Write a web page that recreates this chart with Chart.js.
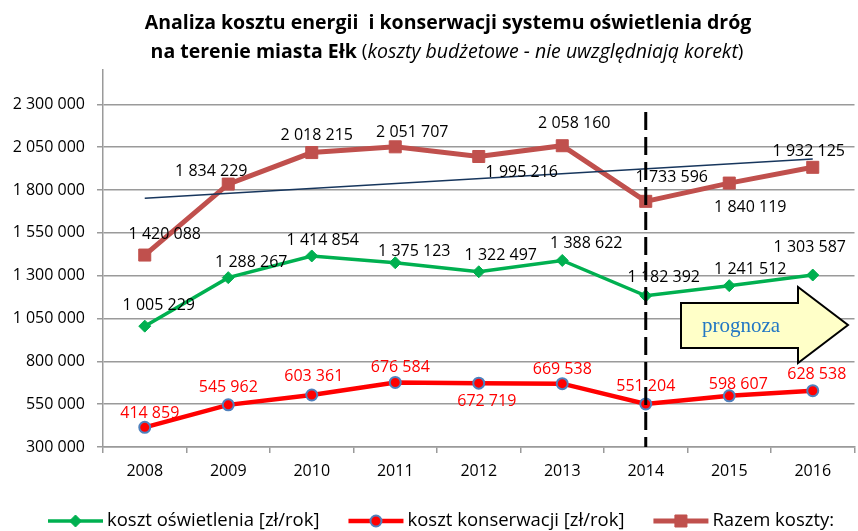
<!DOCTYPE html>
<html><head><meta charset="utf-8">
<script src="https://cdn.jsdelivr.net/npm/chart.js@4/dist/chart.umd.min.js"></script>
<style>
html,body{margin:0;padding:0;background:#fff;overflow:hidden;width:858px;height:531px}
#wrap{position:absolute;left:0;top:0;width:864px;height:531px}
</style></head><body>
<div id="wrap"><canvas id="c" width="864" height="531"></canvas></div>
<script>
// ---- data ----
const years = ['2008','2009','2010','2011','2012','2013','2014','2015','2016'];
const kosztOswietlenia = [1005229,1288267,1414854,1375123,1322497,1388622,1182392,1241512,1303587];
const kosztKonserwacji = [414859,545962,603361,676584,672719,669538,551204,598607,628538];
const razemKoszty = [1420088,1834229,2018215,2051707,1995216,2058160,1733596,1840119,1932125];
const trendRazem = [1752000,null,null,null,null,null,null,null,1980000];
const yTicks = [300000,550000,800000,1050000,1300000,1550000,1800000,2050000,2300000];
const forecastYear = '2014';

// ---- styling / label placement (not data) ----
const FONT = "'Open Sans', 'Noto Sans', sans-serif";
const labelOffsets = {
  g: [[14,-21],[23,-15],[11,-16],[19,-11],[22,-16],[24,-17],[18,-18],[21,-16],[-3,-28]],
  r: [[5,-14],[0,-17],[2,-19],[5,-15],[8,18],[0,-14],[0,-18],[9,-11],[4,-16]],
  b: [[20,-21],[-17,-13],[5,-17],[17,-14],[43,16],[12,-22],[26,-24],[21,24],[-4,-16]]
};
const fmt = v => String(v).replace(/\B(?=(\d{3})+(?!\d))/g, ' ');

const decor = {
  id: 'decor',
  afterDatasetsDraw(chart) {
    const ctx = chart.ctx;
    // data labels
    ctx.save();
    ctx.font = "16px " + FONT;
    ctx.textAlign = 'center';
    ctx.textBaseline = 'middle';
    chart.data.datasets.forEach((ds, i) => {
      if (!ds.lblKey) return;
      const meta = chart.getDatasetMeta(i);
      ctx.fillStyle = ds.lblColor;
      meta.data.forEach((pt, j) => {
        const o = labelOffsets[ds.lblKey][j];
        ctx.fillText(fmt(ds.data[j]), pt.x + o[0], pt.y + o[1]);
      });
    });
    ctx.restore();
    // dashed forecast line
    const x = chart.scales.x.getPixelForValue(years.indexOf(forecastYear));
    ctx.save();
    ctx.strokeStyle = '#000';
    ctx.lineWidth = 3;
    ctx.setLineDash([18, 7]);
    ctx.beginPath();
    ctx.moveTo(x, 112);
    ctx.lineTo(x, chart.chartArea.bottom);
    ctx.stroke();
    ctx.restore();
    // arrow "prognoza"
    ctx.save();
    ctx.beginPath();
    ctx.moveTo(681, 303); ctx.lineTo(798, 303); ctx.lineTo(798, 287);
    ctx.lineTo(848, 325); ctx.lineTo(798, 363); ctx.lineTo(798, 348);
    ctx.lineTo(681, 348); ctx.closePath();
    ctx.fillStyle = '#FFFFC8';
    ctx.fill();
    ctx.lineWidth = 2;
    ctx.strokeStyle = '#000';
    ctx.lineJoin = 'miter';
    ctx.stroke();
    ctx.fillStyle = '#2277C4';
    ctx.font = "21px 'Liberation Serif', serif";
    ctx.textAlign = 'center';
    ctx.textBaseline = 'middle';
    ctx.fillText('prognoza', 741, 326);
    ctx.restore();
  },
  afterDraw(chart) {
    const ctx = chart.ctx;
    ctx.save();
    // title
    ctx.fillStyle = '#000';
    ctx.textBaseline = 'middle';
    ctx.textAlign = 'left';
    const t1 = 'Analiza kosztu energii  i konserwacji systemu oświetlenia dróg';
    ctx.font = "bold 19.5px " + FONT;
    let w = ctx.measureText(t1).width;
    ctx.fillText(t1, 448 - w / 2, 23);
    const segs = [
      ['na terenie miasta Ełk ', "bold 19.5px " + FONT],
      ['(', "19px " + FONT],
      ['koszty budżetowe - nie uwzględniają korekt', "italic 19.5px " + FONT],
      [')', "19px " + FONT]
    ];
    let tot = 0;
    segs.forEach(s => { ctx.font = s[1]; tot += ctx.measureText(s[0]).width; });
    let xx = 447 - tot / 2;
    segs.forEach(s => { ctx.font = s[1]; ctx.fillText(s[0], xx, 52); xx += ctx.measureText(s[0]).width; });
    // legend
    let lx = 48;
    const ly = 521;
    chart.data.datasets.forEach(ds => {
      if (!ds.lblKey) return;
      ctx.strokeStyle = ds.borderColor;
      ctx.lineWidth = ds.borderWidth;
      ctx.setLineDash([]);
      ctx.beginPath(); ctx.moveTo(lx, ly); ctx.lineTo(lx + 55, ly); ctx.stroke();
      ctx.fillStyle = ds.pointBackgroundColor;
      ctx.strokeStyle = ds.pointBorderColor;
      ctx.lineWidth = ds.pointBorderWidth;
      Chart.helpers.drawPoint(ctx, {
        pointStyle: ds.pointStyle, radius: ds.pointRadius, rotation: 0,
        borderWidth: ds.pointBorderWidth
      }, lx + 27.5, ly);
      ctx.fillStyle = '#000';
      ctx.font = "18.5px " + FONT;
      ctx.textAlign = 'left';
      ctx.fillText(ds.label, lx + 59, ly);
      lx += 59 + ctx.measureText(ds.label).width + 29;
    });
    ctx.restore();
  }
};

new Chart(document.getElementById('c'), {
  type: 'line',
  data: {
    labels: years,
    datasets: [
      { label: 'Liniowy (Razem koszty:)', data: trendRazem, borderColor: '#17365D', borderWidth: 1.5,
        pointRadius: 0, spanGaps: true, order: 0, fill: false },
      { label: 'koszt oświetlenia [zł/rok]', data: kosztOswietlenia, lblKey: 'g', lblColor: '#000',
        borderColor: '#00B050', borderWidth: 3.5, pointStyle: 'rectRot', pointRadius: 6,
        pointBackgroundColor: '#00B050', pointBorderColor: '#00B050', pointBorderWidth: 1, order: 1 },
      { label: 'koszt konserwacji [zł/rok]', data: kosztKonserwacji, lblKey: 'r', lblColor: '#FF0000',
        borderColor: '#FF0000', borderWidth: 4.5, pointStyle: 'circle', pointRadius: 5.5,
        pointBackgroundColor: '#FF0000', pointBorderColor: '#4F81BD', pointBorderWidth: 2, order: 2 },
      { label: 'Razem koszty:', data: razemKoszty, lblKey: 'b', lblColor: '#000',
        borderColor: '#C0504D', borderWidth: 5, pointStyle: 'rect', pointRadius: 8.5,
        pointBackgroundColor: '#C0504D', pointBorderColor: '#C0504D', pointBorderWidth: 1, order: 3 }
    ]
  },
  options: {
    responsive: false, animation: false, devicePixelRatio: 1,
    layout: { padding: { top: 70, left: 0, right: 0, bottom: 0 } },
    elements: { line: { tension: 0 } },
    plugins: { legend: { display: false }, title: { display: false }, tooltip: { enabled: false } },
    scales: {
      x: {
        offset: true,
        grid: { offset: true, drawOnChartArea: false, drawTicks: true, tickLength: 6, color: '#9a9a9a', lineWidth: 1.5 },
        border: { color: '#9a9a9a', width: 1.5 },
        ticks: { font: { family: FONT, size: 16 }, color: '#000', padding: 9, maxRotation: 0 },
        afterFit: s => { s.height = 84; }
      },
      y: {
        min: 300000, max: 2500000,
        afterBuildTicks: s => { s.ticks = yTicks.map(v => ({ value: v })); },
        grid: { color: '#9a9a9a', lineWidth: 1.5, tickLength: 6 },
        border: { color: '#9a9a9a', width: 1.5 },
        ticks: { font: { family: FONT, size: 16 }, color: '#000', padding: 12, callback: v => fmt(v) },
        afterFit: s => { s.width = 103; }
      }
    }
  },
  plugins: [decor]
});
</script>
</body></html>
